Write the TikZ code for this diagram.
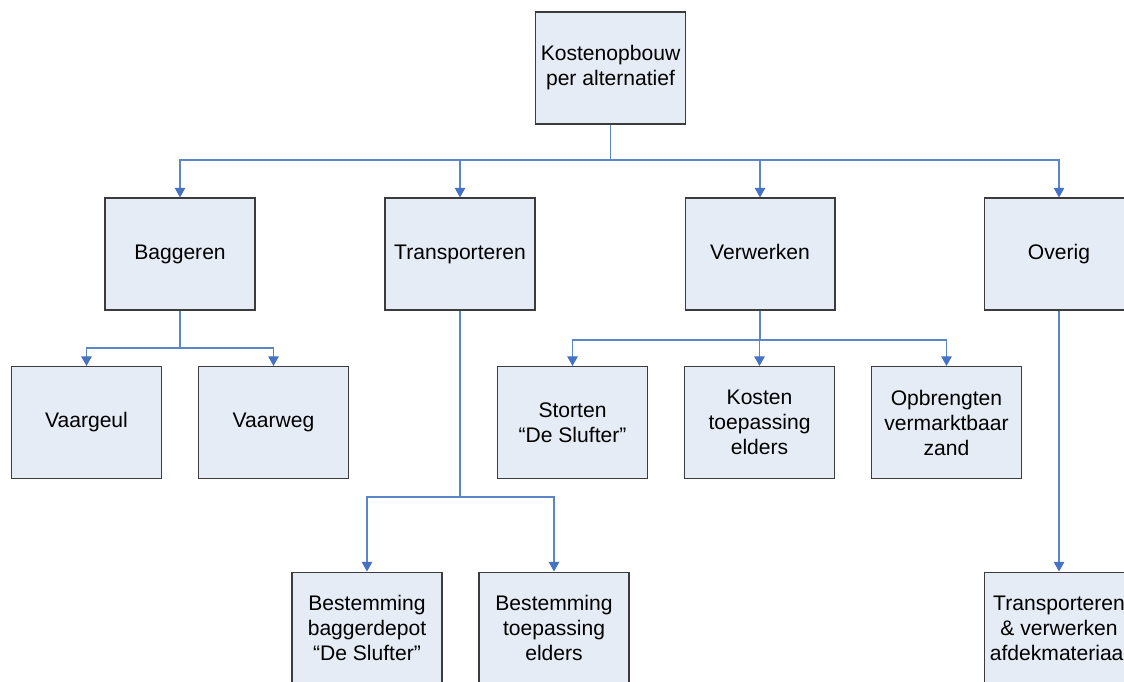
\documentclass[tikz,border=0pt]{standalone}
\usepackage{fontspec}
\setmainfont{Liberation Sans}
\usetikzlibrary{arrows.meta}
\definecolor{boxfill}{HTML}{E6ECF6}
\definecolor{boxline}{HTML}{3C3C3C}
\definecolor{linkblue}{HTML}{5B86C8}
\definecolor{tipblue}{HTML}{4472C4}
\tikzset{
  box/.style={draw=boxline, line width=0.6pt, fill=boxfill, minimum width=3cm,
    minimum height=2.24cm, align=center, font=\fontsize{12}{14.2}\selectfont, inner sep=0pt},
  link/.style={draw=linkblue, line width=0.6pt},
  arrowlink/.style={link, -{Triangle[width=6pt,length=5.5pt,fill=tipblue,color=tipblue]}},
}
\begin{document}
\begin{tikzpicture}[x=0.02cm, y=-0.02cm]
\useasboundingbox (0,0) rectangle (1124,681);
\clip (0,0) rectangle (1124,681);

% boxes
\node[box] (top)  at (610.5,68) {Kostenopbouw\\per alternatief};
\node[box] (bag)  at (180,254) {Baggeren};
\node[box] (tra)  at (460,254) {Transporteren};
\node[box] (ver)  at (760,254) {Verwerken\vphantom{g}};
\node[box] (ove)  at (1059,254) {Overig};

\node[box] (vgl)  at (86.5,422.5) {Vaargeul};
\node[box] (vwg)  at (273.5,422.5) {Vaarweg};
\node[box] (sto)  at (572.5,422.5) {Storten\\“De Slufter”};
\node[box] (kos)  at (759.5,422.5) {Kosten\\toepassing\\elders};
\node[box] (opb)  at (946.5,422.5) {Opbrengten\\vermarktbaar\\zand};

\node[box] (bdp)  at (367,628) {Bestemming\\baggerdepot\\“De Slufter”};
\node[box] (bte)  at (554,628) {Bestemming\\toepassing\\elders};
\node[box] (tva)  at (1059,628) {Transporteren\\\& verwerken\\afdekmateriaal};

% bus levels
\coordinate (busA) at (610,160);
\coordinate (busB) at (180,348);
\coordinate (busT) at (460,497);
\coordinate (busV) at (760,340);

% connectors
\foreach \t in {bag,tra,ver,ove}
  \draw[arrowlink] (top.south) -- (top.south |- busA) -| (\t.north);
\foreach \t in {vgl,vwg}
  \draw[arrowlink] (bag.south) -- (bag.south |- busB) -| (\t.north);
\foreach \t in {sto,kos,opb}
  \draw[arrowlink] (ver.south) -- (ver.south |- busV) -| (\t.north);
\foreach \t in {bdp,bte}
  \draw[arrowlink] (tra.south) -- (tra.south |- busT) -| (\t.north);
\draw[arrowlink] (ove.south) -- (tva.north);
\end{tikzpicture}
\end{document}
